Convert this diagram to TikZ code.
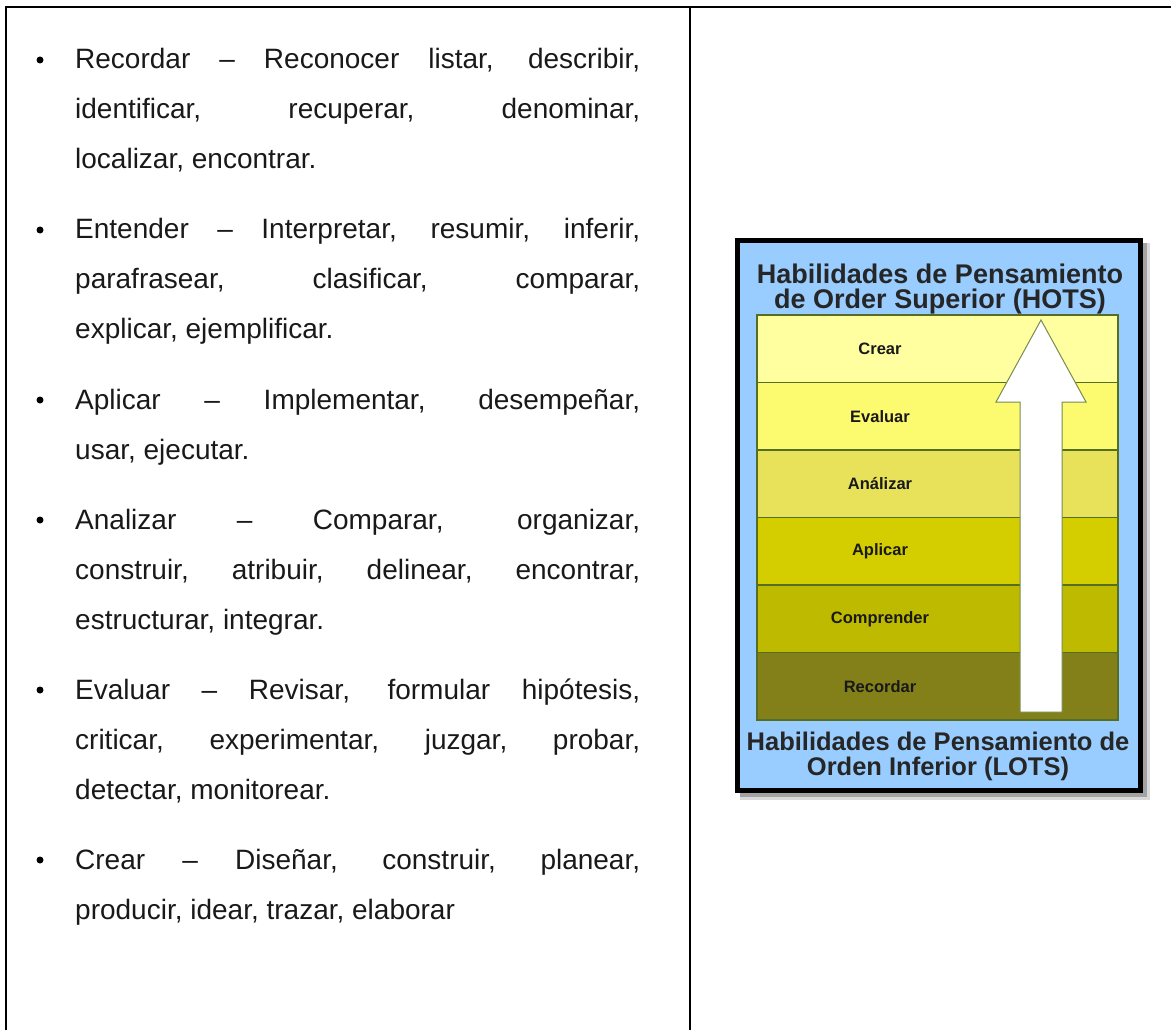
\documentclass[tikz,border=0pt]{standalone}
\usepackage{fontspec}
\setmainfont{Liberation Sans}
\usetikzlibrary{positioning}
\tolerance=9999
\hbadness=10000

\definecolor{skyblue}{RGB}{153,204,255}
\definecolor{crearcol}{RGB}{255,255,160}
\definecolor{evalcol}{RGB}{252,250,110}
\definecolor{analcol}{RGB}{232,226,90}
\definecolor{aplicol}{RGB}{212,206,0}
\definecolor{compcol}{RGB}{190,186,0}
\definecolor{recocol}{RGB}{132,128,25}
\definecolor{bandline}{RGB}{85,110,35}

\begin{document}
\begin{tikzpicture}
    [
    x=1pt, y=-1pt,
    item/.style={anchor=base west, inner sep=0pt, text width=565pt, align=justify,
        font=\fontsize{28}{50}\selectfont, text=black!90},
    dot/.style={circle, fill=black, inner sep=0pt, minimum size=7pt},
    band/.style={draw=bandline, line width=1.2pt, minimum width=361pt,
        minimum height=67.5pt, inner sep=0pt, outer sep=0pt},
    bandtext/.style={font=\bfseries\fontsize{16.5}{18}\selectfont, text=black!90},
    heading/.style={font=\bfseries\fontsize{27}{25}\selectfont, align=center,
        inner sep=0pt, text=black!85},
    ]
    \useasboundingbox (0,0) rectangle (1171,1030);

    % table rules
    \coordinate (topleft) at (5,7);
    \coordinate (topright) at (1171,7);
    \coordinate (botleft) at (6,1030);
    \coordinate (midtop) at (690,7);
    \coordinate (midbot) at (690,1030);
    \draw[line width=2.5pt] (topleft) -- (topright);
    \draw[line width=2pt] ([xshift=1pt]topleft) -- (botleft);
    \draw[line width=1.5pt] (midtop) -- (midbot);

    % left column
    \node[item] (it_recordar) at (75,69)
    {Recordar -- Reconocer listar, describir,\linebreak
     identificar, recuperar, denominar,\linebreak
     localizar, encontrar.};
    \node[item] (it_entender) at (75,239)
    {Entender -- Interpretar, resumir, inferir,\linebreak
     parafrasear, clasificar, comparar,\linebreak
     explicar, ejemplificar.};
    \node[item] (it_aplicar) at (75,409)
    {Aplicar -- Implementar, desempeñar,\linebreak
     usar, ejecutar.};
    \node[item] (it_analizar) at (75,529)
    {Analizar -- Comparar, organizar,\linebreak
     construir, atribuir, delinear, encontrar,\linebreak
     estructurar, integrar.};
    \node[item] (it_evaluar) at (75,699)
    {Evaluar -- Revisar, formular hipótesis,\linebreak
     criticar, experimentar, juzgar, probar,\linebreak
     detectar, monitorear.};
    \node[item] (it_crear) at (75,869)
    {Crear -- Diseñar, construir, planear,\linebreak
     producir, idear, trazar, elaborar};

    \node[dot] (dot_recordar) at ([xshift=-35pt,yshift=9pt]it_recordar.base west) {};
    \node[dot] (dot_entender) at ([xshift=-35pt,yshift=9pt]it_entender.base west) {};
    \node[dot] (dot_aplicar) at ([xshift=-35pt,yshift=9pt]it_aplicar.base west) {};
    \node[dot] (dot_analizar) at ([xshift=-35pt,yshift=9pt]it_analizar.base west) {};
    \node[dot] (dot_evaluar) at ([xshift=-35pt,yshift=9pt]it_evaluar.base west) {};
    \node[dot] (dot_crear) at ([xshift=-35pt,yshift=9pt]it_crear.base west) {};

    % taxonomy picture
    \coordinate (box_nw) at (737,240);
    \coordinate (box_se) at (1140,790);
    \fill[black, opacity=.15] ([shift={(3,3)}]box_nw) rectangle ([shift={(10,10)}]box_se);
    \fill[black, opacity=.25] ([shift={(3,3)}]box_nw) rectangle ([shift={(7,7)}]box_se);
    \filldraw[fill=skyblue, draw=black, line width=5pt] (box_nw) rectangle (box_se);

    \node[band, fill=crearcol, anchor=north west] (band_crear) at (757,315) {};
    \node[band, fill=evalcol, below=0pt of band_crear] (band_evaluar) {};
    \node[band, fill=analcol, below=0pt of band_evaluar] (band_analizar) {};
    \node[band, fill=aplicol, below=0pt of band_analizar] (band_aplicar) {};
    \node[band, fill=compcol, below=0pt of band_aplicar] (band_comprender) {};
    \node[band, fill=recocol, below=0pt of band_comprender] (band_recordar) {};

    \node[bandtext] at ([xshift=123pt]band_crear.west) {Crear};
    \node[bandtext] at ([xshift=123pt]band_evaluar.west) {Evaluar};
    \node[bandtext] at ([xshift=123pt]band_analizar.west) {Análizar};
    \node[bandtext] at ([xshift=123pt]band_aplicar.west) {Aplicar};
    \node[bandtext] at ([xshift=123pt]band_comprender.west) {Comprender};
    \node[bandtext] at ([xshift=123pt]band_recordar.west) {Recordar};

    % upward arrow
    \coordinate (arrow_tip) at (1041,320);
    \filldraw[fill=white, draw=bandline!80, line width=1pt]
        (arrow_tip) -- ++(45,82) -- ++(-24,0) -- ++(0,310) -- ++(-42,0)
        -- ++(0,-310) -- ++(-24,0) -- cycle;

    \node[heading] (head_hots) at (940,289)
    {Habilidades de Pensamiento\\de Order Superior (HOTS)};
    \node[heading, font=\bfseries\fontsize{25.5}{25}\selectfont] (head_lots) at (938,756)
    {Habilidades de Pensamiento de\\Orden Inferior (LOTS)};
\end{tikzpicture}
\end{document}
